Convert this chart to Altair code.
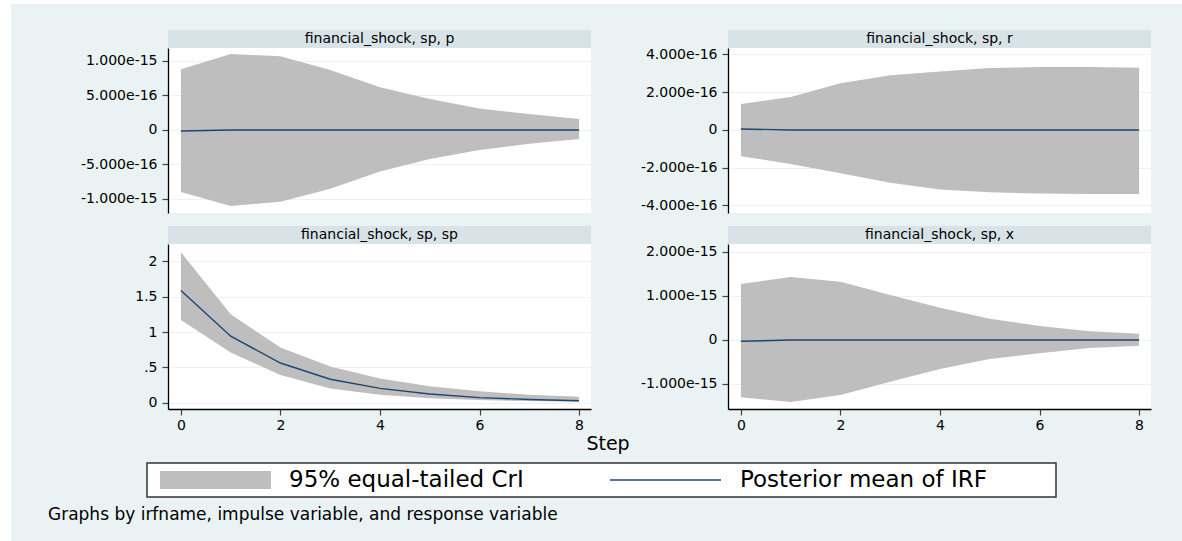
import altair as alt
import pandas as pd

# ---------------- data ----------------
steps = [0, 1, 2, 3, 4, 5, 6, 7, 8]

p_upper = [0.88e-15, 1.10e-15, 1.07e-15, 0.87e-15, 0.62e-15, 0.45e-15, 0.31e-15, 0.23e-15, 0.16e-15]
p_lower = [-0.90e-15, -1.10e-15, -1.04e-15, -0.85e-15, -0.60e-15, -0.42e-15, -0.29e-15, -0.20e-15, -0.13e-15]
p_mean = [-1.5e-17, 0, 0, 0, 0, 0, 0, 0, 0]

r_upper = [1.37e-16, 1.74e-16, 2.47e-16, 2.89e-16, 3.10e-16, 3.28e-16, 3.33e-16, 3.34e-16, 3.30e-16]
r_lower = [-1.40e-16, -1.80e-16, -2.30e-16, -2.80e-16, -3.16e-16, -3.30e-16, -3.37e-16, -3.39e-16, -3.39e-16]
r_mean = [5e-18, 0, 0, 0, 0, 0, 0, 0, 0]

sp_upper = [2.13, 1.25, 0.78, 0.51, 0.34, 0.23, 0.16, 0.11, 0.08]
sp_lower = [1.17, 0.71, 0.39, 0.20, 0.11, 0.06, 0.035, 0.02, 0.01]
sp_mean = [1.59, 0.94, 0.56, 0.33, 0.20, 0.12, 0.07, 0.043, 0.026]

x_upper = [1.27e-15, 1.43e-15, 1.32e-15, 1.02e-15, 0.73e-15, 0.48e-15, 0.32e-15, 0.20e-15, 0.14e-15]
x_lower = [-1.30e-15, -1.41e-15, -1.25e-15, -0.95e-15, -0.66e-15, -0.43e-15, -0.30e-15, -0.18e-15, -0.13e-15]
x_mean = [-3e-17, 0, 0, 0, 0, 0, 0, 0, 0]

panel_titles = ["financial_shock, sp, p", "financial_shock, sp, r",
                "financial_shock, sp, sp", "financial_shock, sp, x"]

p_ticks = [-1e-15, -5e-16, 0, 5e-16, 1e-15]
p_tick_labels = ["-1.000e-15", "-5.000e-16", "0", "5.000e-16", "1.000e-15"]
r_ticks = [-4e-16, -2e-16, 0, 2e-16, 4e-16]
r_tick_labels = ["-4.000e-16", "-2.000e-16", "0", "2.000e-16", "4.000e-16"]
sp_ticks = [0, 0.5, 1, 1.5, 2]
sp_tick_labels = ["0", ".5", "1", "1.5", "2"]
x_ticks = [-1e-15, 0, 1e-15, 2e-15]
x_tick_labels = ["-1.000e-15", "0", "1.000e-15", "2.000e-15"]
step_ticks = [0, 2, 4, 6, 8]
step_tick_labels = ["0", "2", "4", "6", "8"]

x_title = "Step"
legend_labels = ["95% equal-tailed CrI", "Posterior mean of IRF"]
note = "Graphs by irfname, impulse variable, and response variable"

# ---------------- style ----------------
W, H = 423, 165
BG = "#EAF2F3"
STRIP = "#D8E3E8"
BAND = "#BEBEBE"
NAVY = "#1A476F"
FONT = "DejaVu Sans"
X_DOMAIN = [-0.26, 8.24]


def label_expr(values, labels):
    expr = "''"
    for v, lab in reversed(list(zip(values, labels))):
        expr = f"datum.value == {v!r} ? '{lab}' : ({expr})"
    return expr


def panel(title, upper, lower, mean, ydomain, yticks, ylabels, bottom, extra=()):
    df = pd.DataFrame({"step": steps, "upper": upper, "lower": lower, "mean": mean})
    xscale = alt.Scale(domain=X_DOMAIN, nice=False, zero=False)
    yscale = alt.Scale(domain=ydomain, nice=False, zero=False)
    if bottom:
        xaxis = alt.Axis(values=step_ticks, labelExpr=label_expr(step_ticks, step_tick_labels),
                         title=None, grid=False, labelPadding=3)
    else:
        xaxis = None
    yaxis = alt.Axis(values=yticks, labelExpr=label_expr(yticks, ylabels), title=None,
                     grid=True, gridColor=BG, gridWidth=1.2, labelPadding=5)
    band = alt.Chart(df).mark_area(color=BAND, opacity=1).encode(
        x=alt.X("step:Q", scale=xscale, axis=xaxis),
        y=alt.Y("lower:Q", scale=yscale, axis=yaxis),
        y2="upper:Q",
    )
    line = alt.Chart(df).mark_line(color=NAVY, strokeWidth=1.4).encode(
        x=alt.X("step:Q", scale=xscale, axis=xaxis),
        y=alt.Y("mean:Q", scale=yscale, axis=yaxis),
    )
    tdf = pd.DataFrame({"title": [title]})
    strip = alt.Chart(tdf).mark_rect(color=STRIP).encode(
        x=alt.value(0), x2=alt.value(W), y=alt.value(-18), y2=alt.value(0))
    stext = alt.Chart(tdf).mark_text(font=FONT, fontSize=14, color="black",
                                     baseline="middle", align="center").encode(
        text="title:N", x=alt.value(W / 2), y=alt.value(-9))
    return alt.layer(*extra, strip, stext, band, line).properties(width=W, height=H)


# decorations outside the plot (relative to panel origins)
mdf = pd.DataFrame({"k": [0]})
margin_left = alt.Chart(mdf).mark_rect(color="white").encode(
    x=alt.value(-168), x2=alt.value(-157), y=alt.value(-48), y2=alt.value(493))
margin_top = alt.Chart(mdf).mark_rect(color="white").encode(
    x=alt.value(-168), x2=alt.value(1014), y=alt.value(-48), y2=alt.value(-44))

ldf = pd.DataFrame({"xt": [x_title], "l1": [legend_labels[0]], "l2": [legend_labels[1]], "note": [note]})
step_text = alt.Chart(ldf).mark_text(font=FONT, fontSize=19, color="black", align="center",
                                     baseline="middle").encode(
    text="xt:N", x=alt.value(440), y=alt.value(200))
legend_box = alt.Chart(ldf).mark_rect(fill="white", stroke="#333333", strokeWidth=1.5).encode(
    x=alt.value(-21), x2=alt.value(888), y=alt.value(219), y2=alt.value(253))
swatch = alt.Chart(ldf).mark_rect(color=BAND).encode(
    x=alt.value(-8), x2=alt.value(103), y=alt.value(227), y2=alt.value(245))
lab1 = alt.Chart(ldf).mark_text(font=FONT, fontSize=23, color="black", align="left",
                                baseline="middle").encode(
    text="l1:N", x=alt.value(121), y=alt.value(236))
sample = alt.Chart(ldf).mark_rule(color=NAVY, strokeWidth=1.5).encode(
    x=alt.value(442), x2=alt.value(553), y=alt.value(236))
lab2 = alt.Chart(ldf).mark_text(font=FONT, fontSize=23, color="black", align="left",
                                baseline="middle").encode(
    text="l2:N", x=alt.value(572), y=alt.value(236))
note_text = alt.Chart(ldf).mark_text(font=FONT, fontSize=17, color="black", align="left",
                                     baseline="middle").encode(
    text="note:N", x=alt.value(-120), y=alt.value(271))

tl = panel(panel_titles[0], p_upper, p_lower, p_mean, [-1.203e-15, 1.188e-15],
           p_ticks, p_tick_labels, False, extra=(margin_left, margin_top))
tr = panel(panel_titles[1], r_upper, r_lower, r_mean, [-4.40e-16, 4.34e-16],
           r_ticks, r_tick_labels, False)
bl = panel(panel_titles[2], sp_upper, sp_lower, sp_mean, [-0.092, 2.248],
           sp_ticks, sp_tick_labels, True,
           extra=(step_text, legend_box, swatch, lab1, sample, lab2, note_text))
br = panel(panel_titles[3], x_upper, x_lower, x_mean, [-1.568e-15, 2.18e-15],
           x_ticks, x_tick_labels, True)

chart = alt.concat(tl, tr, bl, br, columns=2, spacing={"row": 31, "column": 137},
                   bounds="flush").properties(
    padding=0, background=BG
).configure_view(
    stroke=None, fill="white"
).configure_axis(
    labelFont=FONT, labelFontSize=14, labelColor="black", domainColor="black",
    domainWidth=1.3, tickColor="#444444", tickSize=6, tickWidth=1.2
)

chart.save("out.html", embed_options={"renderer": "svg", "actions": False})
